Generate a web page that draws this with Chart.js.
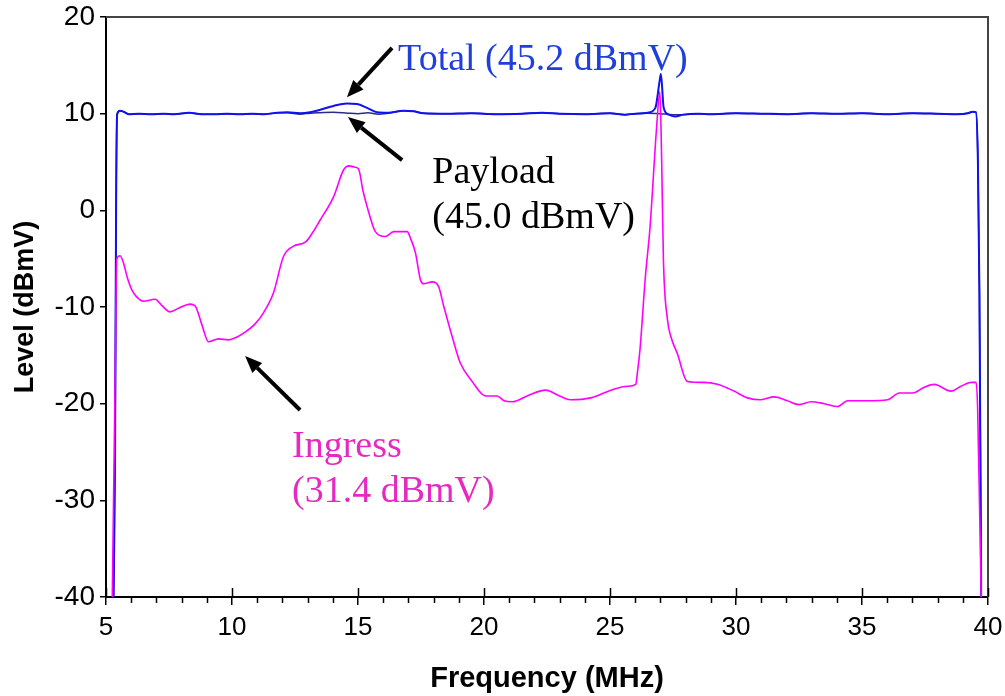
<!DOCTYPE html>
<html lang="en">
<head>
    <meta charset="UTF-8">
    <title>Ingress spectrum</title>
    <script src="https://cdn.jsdelivr.net/npm/chart.js"></script>
    <style>
        body { margin: 0; background: #fff; }
        #wrap { width: 1005px; height: 696px; }
    </style>
</head>
<body>
    <div id="wrap"><canvas id="spectrumChart"></canvas></div>

    <script>
        // Ingress trace (MHz, dBmV)
        const ingressFreq = [5.25, 5.35, 5.43, 5.56, 5.7, 5.85, 6.02, 6.2, 6.48, 6.95, 7.2, 7.54, 7.9, 8.34, 8.54, 8.8,
            9.07, 9.46, 9.86, 10.2, 10.46, 10.9, 11.25, 11.65, 12.04, 12.44, 12.91, 13.2, 13.5, 14.03, 14.43, 14.65,
            14.83, 15.02, 15.2, 15.36, 15.69, 16.08, 16.42, 16.95, 17.1, 17.28, 17.48, 17.61, 17.94, 18.2, 18.4, 18.73,
            19.06, 19.53, 20.06, 20.52, 20.8, 21.12, 21.71, 22.44, 23.0, 23.43, 24.23, 25.15, 25.7, 26.02, 26.1, 26.19,
            26.4, 26.59, 26.85, 26.98, 27.05, 27.12, 27.28, 27.42, 27.67, 28.07, 28.73, 29.26, 29.92, 30.45, 30.98,
            31.51, 32.04, 32.5, 32.97, 33.5, 34.03, 34.43, 35.22, 36.02, 36.48, 37.01, 37.47, 37.87, 38.53, 38.93,
            39.33, 39.53, 39.59, 39.73];
        const ingressLevel = [-40, -20, -5.0, -4.7, -5.5, -7.0, -8.2, -8.9, -9.4, -9.2, -9.8, -10.5, -10.1, -9.7, -9.9, -11.8,
            -13.6, -13.3, -13.4, -13.1, -12.7, -11.8, -10.6, -8.5, -4.8, -3.7, -3.3, -2.3, -1.0, 1.4, 4.2, 4.6,
            4.5, 4.3, 2.0, 0.4, -2.2, -2.7, -2.2, -2.2, -3.0, -4.4, -7.2, -7.6, -7.4, -7.9, -9.9, -13.0,
            -15.8, -17.7, -19.2, -19.2, -19.7, -19.8, -19.2, -18.6, -19.2, -19.6, -19.4, -18.5, -18.2, -18.0, -16.5, -14.4,
            -7.0, -1.7, 8.6, 12.3, 5.2, -5.1, -11.3, -13.1, -14.8, -17.7, -17.8, -18.0, -18.7, -19.4, -19.6,
            -19.3, -19.7, -20.1, -19.8, -20.0, -20.3, -19.7, -19.7, -19.6, -18.9, -18.9, -18.3, -18.0, -18.7, -18.2,
            -17.8, -17.8, -20.6, -40];

        // Total (payload + ingress)
        const totalFreq = [5.3, 5.36, 5.4, 5.44, 5.55, 5.7, 5.9, 6.3, 6.8, 7.3, 7.7, 8.3, 8.8, 9.3, 9.8, 10.3, 10.8, 11.3,
            11.8, 12.2, 12.7, 13.1, 13.5, 14.03, 14.56, 14.96, 15.36, 15.75, 16.2, 16.8, 17.2, 17.6, 18.5, 19.5, 20.5,
            21.5, 22.3, 23, 24, 25, 25.6, 26.0, 26.5, 26.8, 26.97, 27.02, 27.13, 27.33, 27.6, 27.9, 28.5, 29, 30, 31,
            32, 33, 34, 35, 36, 37, 38, 38.8, 39.2, 39.4, 39.52, 39.6, 39.66, 39.73];
        const totalLevel = [-40, -25, 0, 9.9, 10.3, 10.2, 9.95, 10.0, 9.95, 10.0, 9.95, 10.1, 9.95, 9.95, 10.0, 9.95, 10.0, 9.95,
            10.1, 10.15, 10.05, 10.15, 10.4, 10.8, 11.05, 11.0, 10.6, 10.15, 10.1, 10.3, 10.25, 10.05, 10.0, 10.05, 9.95,
            10.0, 10.1, 10.0, 9.95, 10.05, 9.9, 10.0, 10.1, 10.6, 13.4, 14.1, 10.6, 9.9, 9.7, 9.9, 10.0, 9.95, 10.05, 10.0,
            9.95, 10.05, 10.0, 10.05, 9.95, 10.05, 10.0, 9.95, 10.05, 10.2, 10.15, 5, -8.5, -40];

        // Payload only
        const payloadFreq = [5.3, 5.36, 5.4, 5.44, 5.55, 5.7, 5.9, 6.3, 6.8, 7.3, 7.7, 8.3, 8.8, 9.3, 9.8, 10.3, 10.8, 11.3,
            11.8, 12.2, 12.7, 13.1, 13.5, 14.03, 14.6, 15.0, 15.4, 15.8, 16.2, 16.8, 17.2, 17.6, 18.5, 19.5, 20.5,
            21.5, 22.3, 23, 24, 25, 25.6, 26.0, 26.5, 27.0, 27.5, 27.9, 28.5, 29, 30, 31,
            32, 33, 34, 35, 36, 37, 38, 38.8, 39.2, 39.4, 39.52, 39.6, 39.66, 39.73];
        const payloadLevel = [-40, -25, 0, 9.9, 10.3, 10.2, 9.95, 10.0, 9.95, 10.0, 9.95, 10.1, 9.95, 9.95, 10.0, 9.95, 10.0, 9.95,
            10.1, 10.1, 9.95, 10.05, 10.1, 10.15, 10.05, 10.0, 10.1, 9.95, 10.05, 10.3, 10.25, 10.05, 10.0, 10.05, 9.95,
            10.0, 10.1, 10.0, 9.95, 10.05, 9.9, 10.0, 10.05, 10.0, 9.9, 9.9, 10.0, 9.95, 10.05, 10.0,
            9.95, 10.05, 10.0, 10.05, 9.95, 10.05, 10.0, 9.95, 10.05, 10.2, 10.15, 5, -8.5, -40];

        const xTicks = [5, 10, 15, 20, 25, 30, 35, 40];
        const yTicks = [-40, -30, -20, -10, 0, 10, 20];

        // callout text and arrows, placed in data units
        const callouts = [
            { lines: ['Total (45.2 dBmV)'], x: 16.59, y: 14.52, color: '#1f3fdc', arrow: [16.35, 16.8, 14.56, 11.7] },
            { lines: ['Payload', '(45.0 dBmV)'], x: 17.95, y: 2.83, color: '#000000', arrow: [16.75, 5.2, 14.6, 9.65] },
            { lines: ['Ingress', '(31.4 dBmV)'], x: 12.38, y: -25.52, color: '#e629c0', arrow: [12.7, -20.65, 10.52, -15.07] }
        ];

        const toPoints = (fs, vs) => fs.map((f, i) => ({ x: f, y: vs[i] }));

        function drawArrow(ctx, x1, y1, x2, y2) {
            const ang = Math.atan2(y2 - y1, x2 - x1);
            const head = 17, half = 7;
            const bx = x2 - head * Math.cos(ang), by = y2 - head * Math.sin(ang);
            ctx.strokeStyle = '#000';
            ctx.fillStyle = '#000';
            ctx.lineWidth = 4;
            ctx.beginPath();
            ctx.moveTo(x1, y1);
            ctx.lineTo(bx, by);
            ctx.stroke();
            ctx.beginPath();
            ctx.moveTo(x2, y2);
            ctx.lineTo(bx + half * Math.sin(ang), by - half * Math.cos(ang));
            ctx.lineTo(bx - half * Math.sin(ang), by + half * Math.cos(ang));
            ctx.closePath();
            ctx.fill();
        }

        const extras = {
            id: 'extras',
            afterDraw(chart) {
                const { ctx, chartArea: a, scales: { x, y } } = chart;
                ctx.save();
                // top and right frame
                ctx.strokeStyle = '#444';
                ctx.lineWidth = 2;
                ctx.beginPath();
                ctx.moveTo(a.left, a.top);
                ctx.lineTo(a.right, a.top);
                ctx.lineTo(a.right, a.bottom);
                ctx.stroke();
                // minor x ticks + inner half of major ticks
                ctx.strokeStyle = '#000';
                ctx.lineWidth = 1.5;
                ctx.beginPath();
                for (let f = 6; f < 40; f++) {
                    if (f % 5 === 0) continue;
                    const px = Math.round(x.getPixelForValue(f)) + 0.5;
                    ctx.moveTo(px, a.bottom);
                    ctx.lineTo(px, a.bottom + 6);
                }
                xTicks.forEach(f => {
                    const px = Math.round(x.getPixelForValue(f)) + 0.5;
                    ctx.moveTo(px, a.bottom);
                    ctx.lineTo(px, a.bottom - 9);
                });
                ctx.stroke();
                // callouts
                callouts.forEach(c => {
                    const [fx1, fy1, fx2, fy2] = c.arrow;
                    drawArrow(ctx, x.getPixelForValue(fx1), y.getPixelForValue(fy1),
                        x.getPixelForValue(fx2), y.getPixelForValue(fy2));
                    ctx.font = '38px "Liberation Serif", "Times New Roman", serif';
                    ctx.fillStyle = c.color;
                    ctx.textBaseline = 'alphabetic';
                    const px = x.getPixelForValue(c.x);
                    const py = y.getPixelForValue(c.y);
                    c.lines.forEach((t, i) => ctx.fillText(t, px, py + i * 45));
                });
                ctx.restore();
            }
        };

        const ctx = document.getElementById('spectrumChart').getContext('2d');
        new Chart(ctx, {
            type: 'scatter',
            data: {
                datasets: [
                    {
                        label: 'Ingress',
                        data: toPoints(ingressFreq, ingressLevel),
                        borderColor: '#ff00ff',
                        borderWidth: 1.6,
                        showLine: true,
                        pointRadius: 0,
                        cubicInterpolationMode: 'monotone'
                    },
                    {
                        label: 'Total',
                        data: toPoints(totalFreq, totalLevel),
                        borderColor: '#1010f0',
                        borderWidth: 2,
                        showLine: true,
                        pointRadius: 0,
                        cubicInterpolationMode: 'monotone'
                    },
                    {
                        label: 'Payload',
                        data: toPoints(payloadFreq, payloadLevel),
                        borderColor: '#2b2b8a',
                        borderWidth: 1.5,
                        showLine: true,
                        pointRadius: 0,
                        cubicInterpolationMode: 'monotone'
                    }
                ]
            },
            options: {
                responsive: true,
                maintainAspectRatio: false,
                animation: false,
                layout: { padding: { top: 17, right: 17, left: 0, bottom: 0 } },
                plugins: {
                    legend: { display: false },
                    tooltip: { enabled: false }
                },
                scales: {
                    x: {
                        type: 'linear',
                        min: 5,
                        max: 40,
                        afterBuildTicks: s => { s.ticks = xTicks.map(v => ({ value: v })); },
                        afterFit: s => { s.height = 99; s.paddingLeft = 0; s.paddingRight = 0; },
                        border: { color: '#000', width: 2 },
                        grid: { drawOnChartArea: false, color: '#000', lineWidth: 1.5, tickLength: 8 },
                        ticks: { color: '#000', padding: 7, maxRotation: 0, font: { family: '"Liberation Sans", Arial', size: 26 } },
                        title: {
                            display: true,
                            text: 'Frequency (MHz)',
                            color: '#000',
                            padding: { top: 0, bottom: 0 },
                            font: { family: '"Liberation Sans", Arial', size: 29, weight: 'bold' }
                        }
                    },
                    y: {
                        min: -40,
                        max: 20,
                        afterBuildTicks: s => { s.ticks = yTicks.map(v => ({ value: v })); },
                        afterFit: s => { s.width = 106; s.paddingTop = 0; s.paddingBottom = 0; },
                        border: { color: '#000', width: 2 },
                        grid: { drawOnChartArea: false, color: '#000', lineWidth: 1.5, tickLength: 6 },
                        ticks: { color: '#000', padding: 5, font: { family: '"Liberation Sans", Arial', size: 28 } },
                        title: {
                            display: true,
                            text: 'Level (dBmV)',
                            color: '#000',
                            padding: { top: 9, bottom: 0 },
                            font: { family: '"Liberation Sans", Arial', size: 27, weight: 'bold' }
                        }
                    }
                }
            },
            plugins: [extras]
        });
    </script>
</body>
</html>
